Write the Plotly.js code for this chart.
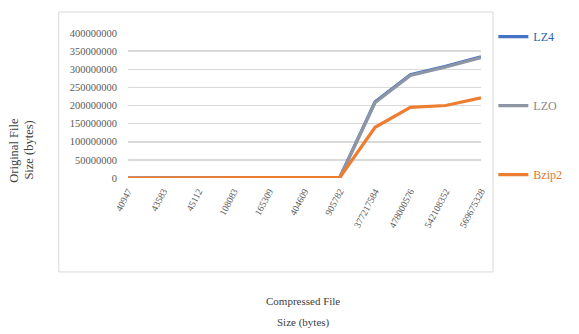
<!DOCTYPE html>
<html>
<head>
<meta charset="utf-8">
<script src="https://cdn.plot.ly/plotly-3.0.1.min.js"></script>
<style>html,body{margin:0;padding:0;background:#fff;}#chart{width:579px;height:334px;}</style>
</head>
<body>
<div id="chart"></div>
<script>
const categories = ["40947","43583","45112","108083","165309","404609","905782","377217584","478000576","542108352","569675328"];
const lz4 = [61000, 65000, 68000, 160000, 245000, 600000, 1350000, 210000000, 285000000, 308000000, 334000000];
const lzo = [62000, 66000, 69000, 162000, 248000, 610000, 1370000, 208000000, 283000000, 306000000, 332000000];
const bzip2 = [60000, 64000, 67000, 158000, 240000, 590000, 1330000, 140000000, 195000000, 200000000, 221000000];
const seriesNames = ["LZ4", "LZO", "Bzip2"];
const tickVals = [0, 50000000, 100000000, 150000000, 200000000, 250000000, 300000000, 350000000, 400000000];

const colors = ["#4472c4", "#8e96a4", "#ed7d31"];
const legendTextColors = ["#2e64a8", "#8a8a8a", "#e0762c"];
const serif = "Liberation Serif, Times New Roman, serif";

const traces = [lz4, lzo, bzip2].map((vals, i) => ({
  type: "scatter",
  mode: "lines",
  x: categories,
  y: vals,
  name: '<span style="color:' + legendTextColors[i] + '">' + seriesNames[i] + '</span>',
  legendgroup: "g" + i,
  line: {color: colors[i], width: 3.2},
  hoverinfo: "skip"
}));

const layout = {
  width: 579, height: 334,
  margin: {l: 128, r: 94, t: 33, b: 156},
  paper_bgcolor: "#ffffff",
  plot_bgcolor: "#ffffff",
  font: {family: serif, color: "#595959", size: 9},
  showlegend: true,
  legend: {
    x: 1.035, y: 1.075, xanchor: "left", yanchor: "top",
    traceorder: "grouped", tracegroupgap: 50,
    font: {family: serif, size: 12},
    itemwidth: 30,
    bgcolor: "rgba(0,0,0,0)"
  },
  xaxis: {
    type: "category",
    tickangle: -62,
    tickfont: {family: serif, size: 9.5, color: "#595959"},
    showgrid: false, zeroline: false, showline: false,
    ticks: "", ticklabelstandoff: 5
  },
  yaxis: {
    range: [0, 400000000],
    tickvals: tickVals,
    tickformat: "d",
    tickfont: {family: serif, size: 10.5, color: "#595959"},
    showgrid: true, gridcolor: "#d9d9d9", gridwidth: 1.5,
    zeroline: false, showline: false, ticks: "",
    ticklabelstandoff: 10
  },
  shapes: [{
    type: "rect", xref: "paper", yref: "paper",
    x0: -0.196, x1: 1.034, y0: -0.648, y1: 1.145,
    line: {color: "#d9d9d9", width: 1}, fillcolor: "rgba(0,0,0,0)", layer: "below"
  }],
  annotations: [
    {
      xref: "paper", yref: "paper", x: -0.322, y: 0.19, xanchor: "center", yanchor: "middle",
      text: "Original File", textangle: -90, showarrow: false,
      font: {family: serif, size: 12.5, color: "#404040"}
    },
    {
      xref: "paper", yref: "paper", x: -0.28, y: 0.19, xanchor: "center", yanchor: "middle",
      text: "Size (bytes)", textangle: -90, showarrow: false,
      font: {family: serif, size: 12.5, color: "#404040"}
    },
    {
      xref: "paper", yref: "paper", x: 0.496, y: -0.845, xanchor: "center", yanchor: "middle",
      text: "Compressed File", showarrow: false,
      font: {family: serif, size: 11, color: "#404040"}
    },
    {
      xref: "paper", yref: "paper", x: 0.496, y: -0.995, xanchor: "center", yanchor: "middle",
      text: "Size (bytes)", showarrow: false,
      font: {family: serif, size: 11, color: "#404040"}
    }
  ]
};

Plotly.newPlot("chart", traces, layout, {staticPlot: true, displayModeBar: false});
</script>
</body>
</html>
